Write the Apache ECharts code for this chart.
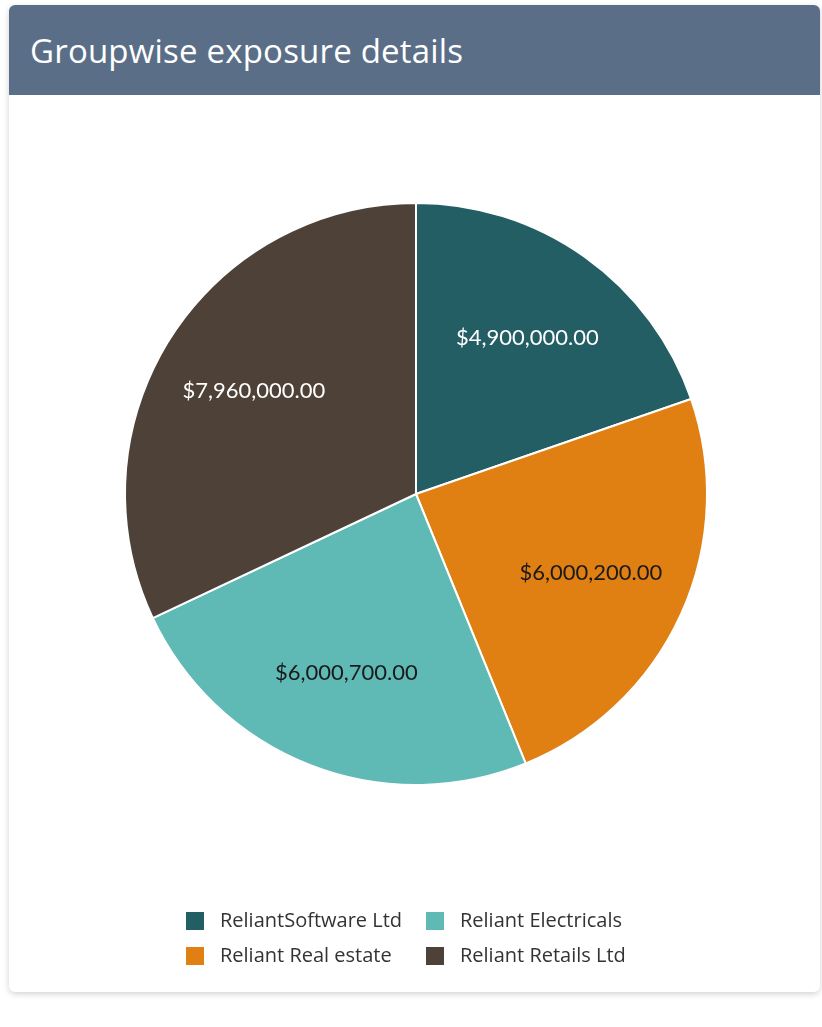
<!DOCTYPE html>
<html>
<head>
<meta charset="utf-8">
<script src="https://cdn.jsdelivr.net/npm/echarts@6/dist/echarts.min.js"></script>
<style>
  body { margin: 0; background: #ffffff; font-family: "Open Sans", sans-serif; }
  .card {
    position: absolute; left: 9px; top: 5px; width: 811px; height: 987px;
    background: #fff; border-radius: 6px; overflow: hidden;
    box-shadow: 0 2px 6px rgba(0,0,0,0.18);
  }
  .card-head {
    height: 90px; background: #5a6f87; color: #fff;
    font-size: 33px; line-height: 92px; padding-left: 21px; letter-spacing: 0.2px;
  }
  #chart { width: 811px; height: 897px; }
</style>
</head>
<body>
<div class="card">
  <div class="card-head">Groupwise exposure details</div>
  <div id="chart"></div>
</div>
<script>
// 各集團曝險
var groupNames = ['ReliantSoftware Ltd', 'Reliant Real estate', 'Reliant Electricals', 'Reliant Retails Ltd'];
var exposureValues = [4900000, 6000200, 6000700, 7960000];
var groupColors = ['#235e65', '#e07f12', '#5fb9b5', '#4e4238'];
var labelColors = ['#ffffff', '#1a1a1a', '#1a1a1a', '#ffffff'];

function money(v) {
    return '$' + v.toLocaleString('en-US', { minimumFractionDigits: 2, maximumFractionDigits: 2 });
}

var myChart = echarts.init(document.getElementById('chart'));

var pieData = groupNames.map(function (name, i) {
    return { name: name, value: exposureValues[i], itemStyle: { color: groupColors[i] } };
});
//只放標籤的透明圓
var labelData = groupNames.map(function (name, i) {
    return {
        name: name, value: exposureValues[i],
        itemStyle: { color: 'rgba(0,0,0,0)' },
        label: { color: labelColors[i] }
    };
});

var legendText = { fontFamily: 'Open Sans', fontSize: 20, color: '#333', padding: [0, 0, 0, 10] };

var option = {
    animation: false,
    legend: [{
        orient: 'vertical', left: 170, top: 810,
        data: [groupNames[0], groupNames[1]],
        itemWidth: 20, itemHeight: 20, itemGap: 13,
        icon: 'rect',
        textStyle: legendText
    }, {
        orient: 'vertical', left: 410, top: 810,
        data: [groupNames[2], groupNames[3]],
        itemWidth: 20, itemHeight: 20, itemGap: 13,
        icon: 'rect',
        textStyle: legendText
    }],
    series: [{
        type: 'pie',
        center: [407, 399],
        radius: [0, 291],
        startAngle: 90,
        clockwise: true,
        silent: true,
        data: pieData,
        label: { show: false },
        labelLine: { show: false },
        itemStyle: { borderColor: '#fff', borderWidth: 2 }
    }, {
        type: 'pie',
        center: [407, 399],
        radius: [90, 288],
        startAngle: 90,
        clockwise: true,
        silent: true,
        data: labelData,
        label: {
            show: true, position: 'inside',
            fontFamily: 'Lato', fontSize: 22,
            formatter: function (p) { return money(p.value); }
        },
        labelLine: { show: false }
    }]
};
myChart.setOption(option);
</script>
</body>
</html>
